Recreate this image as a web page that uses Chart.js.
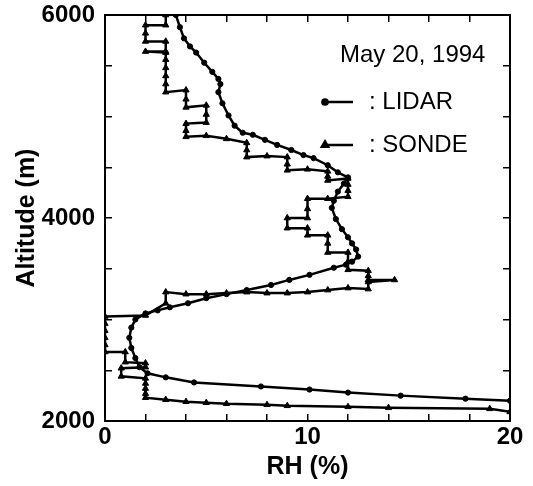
<!DOCTYPE html>
<html>
<head>
<meta charset="utf-8">
<script src="https://cdn.jsdelivr.net/npm/chart.js@4.4.1/dist/chart.umd.min.js"></script>
<style>
  html, body { margin: 0; padding: 0; background: #fff; }
  #wrap { position: relative; width: 533px; height: 486px; }
</style>
</head>
<body>
<div id="wrap"><canvas id="rh"></canvas></div>
<script>
/* RH profiles, LIDAR vs radiosonde */

// LIDAR retrieval, listed from the top of the profile down
const lidarRH = [3.5, 3.7, 3.9, 4.2, 4.5, 4.9, 5.3, 5.6, 5.7, 5.6, 5.8, 6.1, 6.4, 6.8, 7.3, 7.9,
  8.5, 9.2, 9.8, 10.3, 11.0, 11.5, 12.0, 11.8, 11.5, 11.3, 11.2, 11.4, 11.7, 12.0, 12.2, 12.4,
  12.5, 12.2, 11.9, 11.3, 10.1, 9.1, 8.2, 7.0, 6.0, 5.0, 4.1, 3.2, 2.6, 2.0, 1.5, 1.3, 1.2,
  1.3, 1.5, 1.7, 2.1, 3.0, 4.4, 7.7, 10.1, 12.0, 14.6, 17.8, 20.0];
const lidarAlt = [6000, 5880, 5770, 5690, 5630, 5530, 5440, 5370, 5320, 5240, 5130, 5010, 4910,
  4840, 4820, 4770, 4720, 4670, 4620, 4590, 4520, 4450, 4400, 4340, 4260, 4170, 4100, 3990,
  3890, 3810, 3750, 3690, 3620, 3570, 3540, 3510, 3440, 3390, 3340, 3290, 3250, 3210, 3160,
  3120, 3090, 3060, 3000, 2920, 2820, 2720, 2620, 2530, 2470, 2430, 2380, 2340, 2310, 2280,
  2250, 2220, 2200];

// radiosonde readings, same order (one row per level band)
const sondeRH = [
  3, 3, 2, 2, 2, 3, 3, 2,
  3, 3, 3, 3, 3, 3,
  4, 4, 4, 5, 5, 5, 4, 4, 4, 5, 6,
  7, 7, 7, 8, 9, 9, 9, 10, 11, 11, 11,
  12, 12, 12, 12, 11, 10, 10, 10, 9, 9, 10, 10,
  11, 11, 11, 12, 12, 12, 13, 13, 13, 14.3, 13, 13,
  12, 11, 10, 9, 8, 7, 6, 5, 4, 3, 3, 2,
  0, 0, 0, 0, 0, 0, 1, 1, 2, 2, 0.8, 0.8,
  2, 2, 2, 2, 2, 3, 4, 5, 6, 8, 9, 12, 14, 19, 20];
const sondeAlt = [
  6000, 5900, 5900, 5820, 5740, 5740, 5640, 5640,
  5630, 5560, 5480, 5400, 5320, 5240,
  5260, 5170, 5090, 5110, 5020, 4940, 4930, 4860, 4800, 4810, 4780,
  4740, 4670, 4600, 4610, 4600, 4530, 4470, 4480, 4460, 4410, 4370,
  4390, 4330, 4270, 4210, 4190, 4190, 4090, 4000, 4000, 3900, 3900, 3830,
  3830, 3750, 3660, 3660, 3570, 3490, 3480, 3430, 3390, 3390, 3370, 3300,
  3310, 3290, 3270, 3260, 3260, 3270, 3260, 3250, 3250, 3270, 3160, 3040,
  3030, 2960, 2890, 2820, 2750, 2680, 2680, 2580, 2570, 2530, 2520, 2440,
  2420, 2370, 2320, 2270, 2230, 2210, 2190, 2180, 2170, 2160, 2150, 2140, 2130, 2120, 2090];

const xLabels = [0, 10, 20];
const yLabels = [2000, 4000, 6000];
const seriesNames = ['LIDAR', 'SONDE'];
const dateText = 'May 20, 1994';

const INK = '#000';
const FONT = '"Liberation Sans", Arial, Helvetica, sans-serif';
const tickFont = { family: FONT, size: 24, weight: 'bold' };
const titleFont = { family: FONT, size: 25, weight: 'bold' };

const pts = (xs, ys) => xs.map((x, i) => ({ x, y: ys[i] }));

// fixed box size per axis; edge padding zeroed so the plot frame stays put
const boxSize = (w, h) => s => {
  if (w != null) s.width = w;
  if (h != null) s.height = h;
  s.paddingTop = s.paddingBottom = s.paddingLeft = s.paddingRight = 0;
};

// tick marks pointing into the plot on all four sides
function frameAxis(position, min, max, step, extra) {
  return Object.assign({
    type: 'linear', position, min, max,
    ticks: { stepSize: step, display: false },
    grid: { drawOnChartArea: false, tickLength: -7, color: INK, lineWidth: 1.5 },
    border: { color: INK, width: 2 },
  }, extra);
}

// date and key drawn in the upper right corner of the plot
const keyBox = {
  id: 'keyBox',
  afterDatasetsDraw(chart) {
    const ctx = chart.ctx;
    const ds = chart.data.datasets;
    ctx.save();
    ctx.fillStyle = INK;
    ctx.strokeStyle = INK;
    ctx.textBaseline = 'middle';
    ctx.font = '24px ' + FONT;
    ctx.fillText(dateText, 340, 55);
    [102, 145].forEach((y, i) => {
      ctx.lineWidth = 2.5;
      ctx.beginPath();
      ctx.moveTo(325, y);
      ctx.lineTo(353, y);
      ctx.stroke();
      Chart.helpers.drawPoint(ctx, {
        pointStyle: ds[i].pointStyle, radius: ds[i].pointRadius, rotation: 0, borderWidth: 1,
      }, 325, y);
      ctx.fill();
      ctx.fillText(': ' + seriesNames[i], 369, y);
    });
    ctx.restore();
  },
};

new Chart(document.getElementById('rh'), {
  type: 'scatter',
  data: {
    datasets: [
      {
        label: seriesNames[0], data: pts(lidarRH, lidarAlt), showLine: true,
        borderColor: INK, backgroundColor: INK, borderWidth: 2.5,
        pointStyle: 'circle', pointRadius: 2.6, pointBorderWidth: 1,
      },
      {
        label: seriesNames[1], data: pts(sondeRH, sondeAlt), showLine: true,
        borderColor: INK, backgroundColor: INK, borderWidth: 2.5,
        pointStyle: 'triangle', pointRadius: 3.6, pointBorderWidth: 1,
      },
    ],
  },
  options: {
    responsive: true,
    maintainAspectRatio: false,
    animation: false,
    layout: { padding: 0 },
    plugins: { legend: { display: false }, tooltip: { enabled: false } },
    scales: {
      x: frameAxis('bottom', 0, 20, 2, {
        ticks: {
          stepSize: 2, color: INK, font: tickFont, padding: 9, maxRotation: 0,
          callback: v => (xLabels.includes(v) ? String(v) : ''),
        },
        title: { display: true, text: 'RH (%)', color: INK, font: titleFont, padding: { top: 0, bottom: 4 } },
        afterFit: boxSize(null, 65),
      }),
      x2: frameAxis('top', 0, 20, 2, { afterFit: boxSize(null, 15) }),
      y: frameAxis('left', 2000, 6000, 500, {
        ticks: {
          stepSize: 500, color: INK, font: tickFont, padding: 17,
          callback: v => (yLabels.includes(v) ? String(v) : ''),
        },
        title: { display: true, text: 'Altitude (m)', color: INK, font: titleFont, padding: { top: 12, bottom: 0 } },
        afterFit: boxSize(105, null),
      }),
      y2: frameAxis('right', 2000, 6000, 500, { afterFit: boxSize(23, null) }),
    },
  },
  plugins: [keyBox],
});
</script>
</body>
</html>
